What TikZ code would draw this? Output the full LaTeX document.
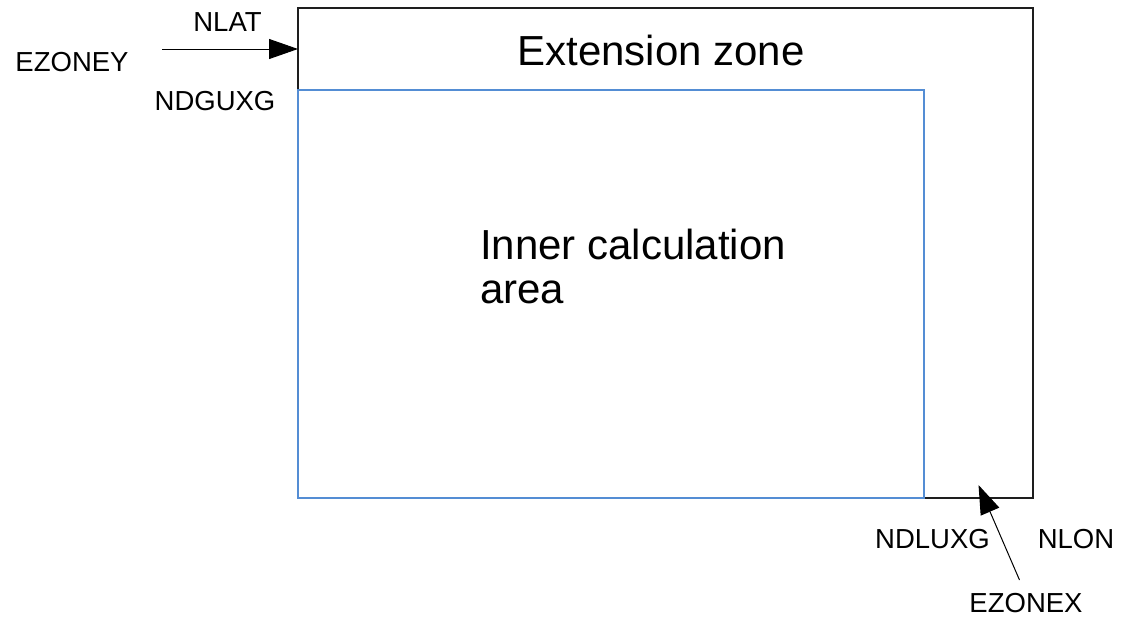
\documentclass[tikz,border=0pt]{standalone}
\usepackage{fontspec}
\setmainfont{Liberation Sans}
\usetikzlibrary{arrows.meta}
\definecolor{frame}{RGB}{30,30,30}
\definecolor{areablue}{RGB}{84,141,212}
\tikzset{
  lbl/.style={inner sep=0pt, anchor=base, font=\fontsize{27.5}{33}\selectfont},
  big/.style={inner sep=0pt, font=\fontsize{42}{44}\selectfont},
  zoneline/.style={draw=frame, line width=1.2pt},
  arealine/.style={draw=areablue, line width=1.2pt},
  pointer/.style={draw=black, line width=1pt, -{Triangle[length=29pt,width=20pt]}}
}
\begin{document}
\begin{tikzpicture}[x=1pt, y=-1pt]
  \useasboundingbox (0,0) rectangle (1123,616);

  % corners of the full grid and of the inner area
  \coordinate (gtl) at (298,8);
  \coordinate (gbr) at (1033,498);
  \coordinate (itl) at (298,90);
  \coordinate (ibr) at (924,498);

  % extension zone (full grid) with the inner calculation area on top
  \draw[zoneline] (gtl) rectangle (gbr);
  \draw[arealine] (itl) rectangle (ibr);

  % texts inside the grid
  \node[big, anchor=base] (ext) at (661,65) {Extension zone};
  \node[big, anchor=base west, align=left] (inner) at (480,303) {Inner calculation\\area};

  % labels around the origin corner
  \node[lbl] (nlat) at (227.5,31) {NLAT};
  \node[lbl] (ezoney) at (72,71) {EZONEY};
  \node[lbl] (ndguxg) at (215,110) {NDGUXG};

  % labels around the far corner
  \node[lbl] (ndluxg) at (932.5,548) {NDLUXG};
  \node[lbl] (nlon) at (1076,548) {NLON};
  \node[lbl] (ezonex) at (1026,612) {EZONEX};

  % pointers to the extension zone
  \coordinate (ystart) at (162,49);
  \coordinate (yend) at (gtl |- ystart);
  \draw[pointer] (ystart) -- (yend);

  \coordinate (xstart) at (1019.5,580);
  \coordinate (xend) at (978.5,485);
  \draw[pointer] (xstart) -- (xend);
\end{tikzpicture}
\end{document}
